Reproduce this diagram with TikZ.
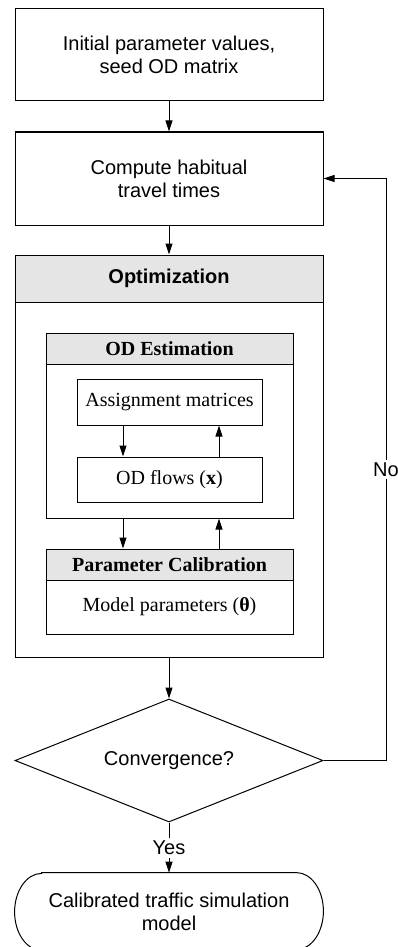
\documentclass[tikz,border=0pt]{standalone}
\usepackage{fontspec}
\setmainfont{Liberation Sans}
\newfontfamily\tnr{Liberation Serif}
\usetikzlibrary{arrows.meta,shapes.geometric}
\begin{document}
\begin{tikzpicture}[x=0.5pt,y=-0.5pt,
 font=\fontsize{10}{11.5}\selectfont,
 box/.style={draw,line width=0.5pt,inner sep=0pt,align=center},
 hdr/.style={draw,line width=0.5pt,fill=gray!20,inner sep=0pt,align=center},
 arr/.style={line width=0.5pt,-{Triangle[length=5.5pt,width=3.5pt]}},
 ln/.style={line width=0.5pt}]
\useasboundingbox (0,0) rectangle (397,947);
% top boxes
\node[box,minimum width=154pt,minimum height=46pt] (init) at (169,55) {Initial parameter values,\\seed OD matrix};
\node[box,minimum width=154pt,minimum height=46.5pt] (comp) at (169,178.5) {Compute habitual\\travel times};
% optimization
\node[box,minimum width=154pt,minimum height=201pt] (opt) at (169,456) {};
\node[hdr,minimum width=154pt,minimum height=23.5pt] (opthdr) at (169,278.5) {\textbf{Optimization}};
% OD estimation
\node[box,minimum width=123.5pt,minimum height=92.5pt] (odest) at (169.5,425.5) {};
\node[hdr,minimum width=123.5pt,minimum height=15.5pt,font=\tnr\fontsize{10}{11.5}\selectfont\bfseries] (odhdr) at (169.5,348.5) {OD Estimation};
\node[box,minimum width=92.5pt,minimum height=23pt,font=\tnr\fontsize{10}{11.5}\selectfont] (assign) at (169.5,402) {Assignment matrices};
\node[box,minimum width=92.5pt,minimum height=22.5pt,font=\tnr\fontsize{10}{11.5}\selectfont] (odflows) at (169.5,479.5) {OD flows (\textbf{x})};
% parameter calibration
\node[hdr,minimum width=123.5pt,minimum height=15.5pt,font=\tnr\fontsize{10}{11.5}\selectfont\bfseries] (pchdr) at (169.5,564.5) {Parameter Calibration};
\node[box,minimum width=123.5pt,minimum height=27pt,font=\tnr\fontsize{10}{11.5}\selectfont] (pcbody) at (169.5,607) {Model parameters (\textbf{θ})};
% decision
\node[draw,ln,diamond,shape aspect=2.5,minimum width=154pt,minimum height=61.5pt,inner sep=0pt] (conv) at (169,760.5) {Convergence?};
% terminal
\node[minimum width=154pt,minimum height=38.5pt,inner sep=0pt,align=center] (term) at (169,911.5) {Calibrated traffic simulation\\model};
\draw[ln] ([xshift=13.5pt]term.north west) -- ([xshift=-13.5pt]term.north east)
  arc[start angle=90,end angle=-90,x radius=13.5pt,y radius=19.25pt]
  -- ([xshift=13.5pt]term.south west)
  arc[start angle=-90,end angle=-270,x radius=13.5pt,y radius=19.25pt] -- cycle;
% connectors
\draw[arr] (init) -- (comp);
\draw[arr] (comp) -- (opthdr);
\draw[arr] ([xshift=-23.25pt]assign.south) -- ([xshift=-23.25pt]odflows.north);
\draw[arr] ([xshift=24.75pt]odflows.north) -- ([xshift=24.75pt]assign.south);
\draw[arr] ([xshift=-23.25pt]odest.south) -- ([xshift=-23.25pt]pchdr.north);
\draw[arr] ([xshift=24.75pt]pchdr.north) -- ([xshift=24.75pt]odest.south);
\draw[arr] (opt.south) -- (conv.north);
\draw[arr] (conv.south) -- node[fill=white,inner sep=1.5pt] {Yes} (term.north);
\coordinate (c1) at (386,760.5);
\coordinate (c2) at (386,178.5);
\draw[arr] (conv.east) -- (c1) -- node[fill=white,inner sep=1.5pt] {No} (c2) -- (comp.east);
\end{tikzpicture}
\end{document}
